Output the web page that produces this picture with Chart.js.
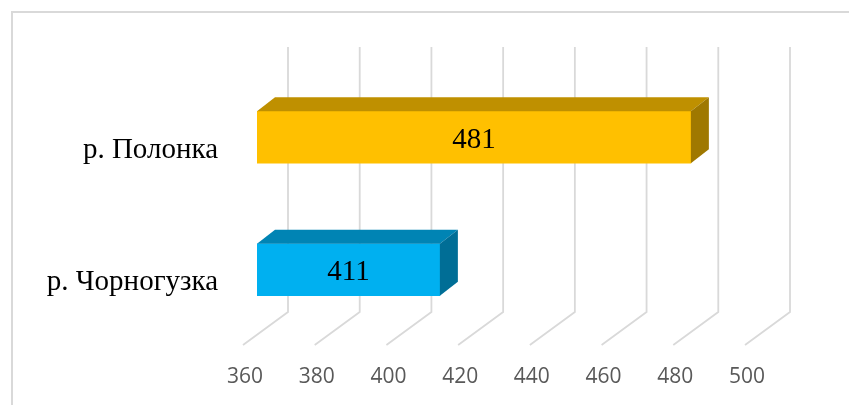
<!DOCTYPE html>
<html>
<head>
<meta charset="utf-8">
<script src="https://cdn.jsdelivr.net/npm/chart.js@4"></script>
<style>
  html, body { margin: 0; padding: 0; background: #fff; overflow: hidden; }
  #wrap { position: relative; width: 849px; height: 405px; }
  #frame { position: absolute; left: 11px; top: 11px; width: 900px; height: 500px; border: 2px solid #d9d9d9; }
  canvas { position: absolute; left: 0; top: 0; }
</style>
</head>
<body>
<div id="wrap">
  <div id="frame"></div>
  <canvas id="chart" width="849" height="405"></canvas>
</div>
<script>
// Chart data
const categories = ['р. Полонка', 'р. Чорногузка'];
const values = [481, 411];
const tickValues = [360, 380, 400, 420, 440, 460, 480, 500];

// 3D look
const frontColors = ['#FFC000', '#00B0F0'];
const topColors = ['#BF9000', '#0084B4'];
const sideColors = ['#9F7800', '#006E96'];
const BAR_DEPTH = { dx: 18, dy: -14 };   // bar extrusion
const WALL = { dx: 31, dy: -24 };        // back wall offset from bar plane
const FLOOR_FRONT = { dx: -14, dy: 9 };  // front floor edge offset from bar plane
const gridColor = '#d9d9d9';

const threeD = {
    id: 'threeD',
    beforeDatasetsDraw(chart) {
        const ctx = chart.ctx;
        const area = chart.chartArea;
        const xs = chart.scales.x;
        ctx.save();
        ctx.strokeStyle = gridColor;
        ctx.lineWidth = 1.8;
        tickValues.forEach(v => {
            const px = xs.getPixelForValue(v);
            const bx = px + WALL.dx;
            ctx.beginPath();
            ctx.moveTo(bx, area.top + WALL.dy);
            ctx.lineTo(bx, area.bottom + WALL.dy);
            ctx.lineTo(px + FLOOR_FRONT.dx, area.bottom + FLOOR_FRONT.dy);
            ctx.stroke();
        });
        ctx.restore();
    },
    afterDatasetsDraw(chart) {
        const ctx = chart.ctx;
        const xs = chart.scales.x;
        const meta = chart.getDatasetMeta(0);
        const base = xs.getPixelForValue(tickValues[0]);
        ctx.save();
        meta.data.forEach((bar, i) => {
            const { x, y, height } = bar.getProps(['x', 'y', 'height'], true);
            const top = y - height / 2;
            const bottom = y + height / 2;
            // top face
            ctx.fillStyle = topColors[i];
            ctx.beginPath();
            ctx.moveTo(base, top);
            ctx.lineTo(x, top);
            ctx.lineTo(x + BAR_DEPTH.dx, top + BAR_DEPTH.dy);
            ctx.lineTo(base + BAR_DEPTH.dx, top + BAR_DEPTH.dy);
            ctx.closePath();
            ctx.fill();
            // side face
            ctx.fillStyle = sideColors[i];
            ctx.beginPath();
            ctx.moveTo(x, top);
            ctx.lineTo(x + BAR_DEPTH.dx, top + BAR_DEPTH.dy);
            ctx.lineTo(x + BAR_DEPTH.dx, bottom + BAR_DEPTH.dy);
            ctx.lineTo(x, bottom);
            ctx.closePath();
            ctx.fill();
            // value label
            ctx.fillStyle = '#000';
            ctx.font = '29px "Liberation Serif", "Times New Roman", serif';
            ctx.textAlign = 'center';
            ctx.textBaseline = 'middle';
            ctx.fillText(String(values[i]), (base + x) / 2, y + 3);
        });
        ctx.restore();
    }
};

const chart = new Chart(document.getElementById('chart'), {
    type: 'bar',
    data: {
        labels: categories,
        datasets: [{
            data: values,
            base: tickValues[0],
            backgroundColor: frontColors,
            borderWidth: 0,
            barThickness: 52
        }]
    },
    options: {
        indexAxis: 'y',
        responsive: false,
        animation: false,
        devicePixelRatio: 1,
        layout: { padding: { top: 71, right: 90, bottom: 18, left: 0 } },
        plugins: {
            legend: { display: false },
            tooltip: { enabled: false }
        },
        scales: {
            x: {
                min: tickValues[0],
                max: tickValues[tickValues.length - 1],
                grid: { display: false, drawTicks: false },
                border: { display: false },
                afterBuildTicks: (s) => { s.ticks = tickValues.map(v => ({ value: v })); },
                afterFit: (s) => { s.height = 51; },
                ticks: {
                    color: '#595959',
                    font: { family: '"Open Sans", sans-serif', size: 21 },
                    padding: 28,
                    labelOffset: -12,
                    maxRotation: 0
                }
            },
            y: {
                grid: { display: false, drawTicks: false },
                border: { display: false },
                afterFit: (s) => { s.width = 257; },
                ticks: {
                    color: '#000',
                    font: { family: '"Liberation Serif", "Times New Roman", serif', size: 29 },
                    padding: 39,
                    labelOffset: 13
                }
            }
        }
    },
    plugins: [threeD]
});
</script>
</body>
</html>
